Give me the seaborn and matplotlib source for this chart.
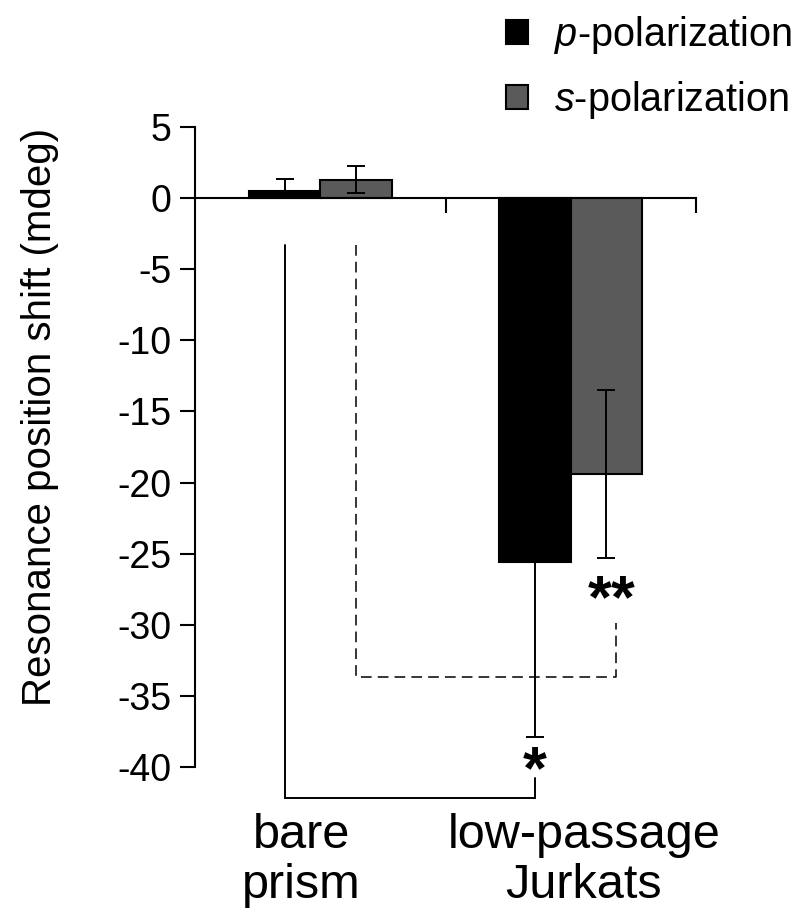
import matplotlib
matplotlib.use("Agg")
import matplotlib.pyplot as plt
import seaborn as sns
import pandas as pd

# Resonance position shift per sample and polarization (mdeg)
categories = ["bare\nprism", "low-passage\nJurkats"]
polarizations = ["$p$-polarization", "$s$-polarization"]
p_shift = [0.5, -25.6]
s_shift = [1.3, -19.4]
p_err = [0.85, 12.3]
s_err = [0.95, 5.9]
y_ticks = [5, 0, -5, -10, -15, -20, -25, -30, -35, -40]
sig_marks = ["*", "**"]

sns.set_theme(style="white")
plt.rcParams["font.family"] = ["Liberation Sans", "DejaVu Sans"]
plt.rcParams["mathtext.fontset"] = "custom"
plt.rcParams["mathtext.rm"] = "Liberation Sans"
plt.rcParams["mathtext.it"] = "Liberation Sans:italic"
plt.rcParams["axes.unicode_minus"] = False
plt.rcParams["text.color"] = "black"
plt.rcParams["xtick.color"] = "black"
plt.rcParams["ytick.color"] = "black"
plt.rcParams["xtick.labelcolor"] = "black"
plt.rcParams["ytick.labelcolor"] = "black"

df = pd.DataFrame({
    "group": categories * 2,
    "pol": [polarizations[0]] * 2 + [polarizations[1]] * 2,
    "shift": p_shift + s_shift,
})

fig = plt.figure(figsize=(7.98, 9.22), dpi=100)
ax = fig.add_axes([195 / 798, 1 - 767 / 922, 501 / 798, 640 / 922])

sns.barplot(data=df, x="group", y="shift", hue="pol",
            palette=["#000000", "#5a5a5a"], saturation=1, width=0.57,
            edgecolor="black", linewidth=1.5, errorbar=None, ax=ax)

# error bars: p only outward (inner half hidden by the black bar), s both ways
centers = {}
for pol, cont, vals, errs in zip(polarizations, ax.containers,
                                 [p_shift, s_shift], [p_err, s_err]):
    xs = [b.get_x() + b.get_width() / 2 for b in cont]
    centers[pol] = xs
    if pol == polarizations[0]:
        lower = [e if v < 0 else 0 for v, e in zip(vals, errs)]
        upper = [e if v >= 0 else 0 for v, e in zip(vals, errs)]
        yerr = [lower, upper]
    else:
        yerr = errs
    ax.errorbar(xs, vals, yerr=yerr, fmt="none", ecolor="black",
                elinewidth=1.4, capsize=6.5, capthick=1.4, zorder=5)

ax.set_xlim(-0.5, 1.5)
ax.set_ylim(-40, 5)
for s in ["top", "right"]:
    ax.spines[s].set_visible(False)
ax.spines["left"].set_bounds(-40, 5)
ax.spines["bottom"].set_position(("data", 0))
for s in ["left", "bottom"]:
    ax.spines[s].set_linewidth(1.5)
    ax.spines[s].set_color("black")

ax.set_xticks([])
ax.set_xticks([0.5, 1.5], minor=True)
ax.tick_params(axis="x", which="minor", direction="out", length=10.8,
               width=1.5, color="black", bottom=True)
ax.set_yticks(y_ticks)
ax.set_yticklabels([str(t) for t in y_ticks])
ax.tick_params(axis="y", direction="out", length=10.8, width=1.5,
               color="black", left=True, labelsize=27, pad=6)
ax.set_xlabel("")
ax.set_ylabel("")
ax.get_legend().remove()

fig.text(40 / 798, 1 - 417 / 922, "Resonance position shift (mdeg)",
         rotation=90, ha="center", va="center", fontsize=29)

# category labels below the plot
label_offsets = [-0.076, 0.052]
for i, (cat, off) in enumerate(zip(categories, label_offsets)):
    ax.text(i + off, -43.2, cat, ha="center", va="top", fontsize=35,
            linespacing=1.15, clip_on=False)

# significance brackets
px = centers[polarizations[0]]
sx = centers[polarizations[1]]
ax.plot([px[0], px[0], px[1], px[1]], [-3.3, -42.2, -42.2, -40.8],
        color="black", lw=1.4, clip_on=False, solid_joinstyle="miter")
ax.plot([sx[0], sx[0], 1.18, 1.18], [-3.3, -33.7, -33.7, -29.9],
        color="black", lw=1.1, ls=(0, (7, 4)), clip_on=False)
ax.text(px[1], -41.5, sig_marks[0], ha="center", va="baseline",
        fontsize=44, fontweight="bold", clip_on=False)
ax.text(1.163, -29.5, sig_marks[1], ha="center", va="baseline",
        fontsize=44, fontweight="bold", clip_on=False)

handles = ax.containers
fig.legend([c[0] for c in handles], polarizations, loc="upper left",
           bbox_to_anchor=(506 / 798, 1 - 14 / 922), frameon=False,
           fontsize=28.5, handlelength=0.55, handleheight=0.55,
           handletextpad=0.65, labelspacing=0.58, borderpad=0,
           borderaxespad=0)

fig.savefig("out.png", dpi=100)
